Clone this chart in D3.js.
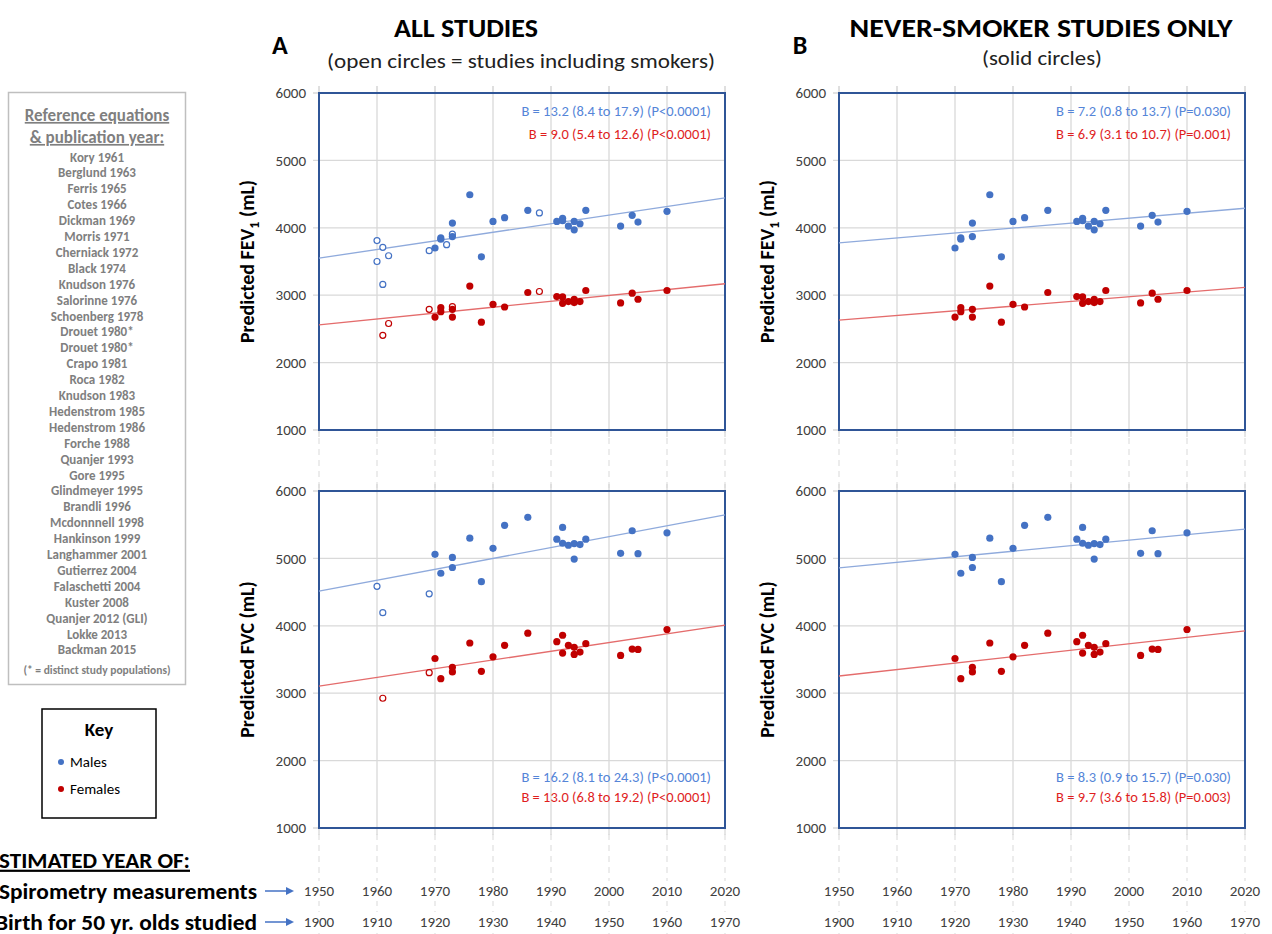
<!DOCTYPE html>
<html>
<head>
<meta charset="utf-8">
<script src="https://cdn.jsdelivr.net/npm/d3@7/dist/d3.min.js"></script>
<style>
  body { margin: 0; background: #fff; }
  svg { display: block; font-family: Carlito, Calibri, "Liberation Sans Narrow", Lato, sans-serif; }
</style>
</head>
<body>
<svg id="chart" width="1272" height="934"></svg>
<script>
// Reference list shown in the grey box
const studies = ['Kory 1961', 'Berglund 1963', 'Ferris 1965', 'Cotes 1966', 'Dickman 1969', 'Morris 1971',
  'Cherniack 1972', 'Black 1974', 'Knudson 1976', 'Salorinne 1976', 'Schoenberg 1978', 'Drouet 1980*',
  'Drouet 1980*', 'Crapo 1981', 'Roca 1982', 'Knudson 1983', 'Hedenstrom 1985', 'Hedenstrom 1986',
  'Forche 1988', 'Quanjer 1993', 'Gore 1995', 'Glindmeyer 1995', 'Brandli 1996', 'Mcdonnnell 1998',
  'Hankinson 1999', 'Langhammer 2001', 'Gutierrez 2004', 'Falaschetti 2004', 'Kuster 2008',
  'Quanjer 2012 (GLI)', 'Lokke 2013', 'Backman 2015'];

// Axis ticks
const yearTicks = [1950, 1960, 1970, 1980, 1990, 2000, 2010, 2020];
const valueTicks = [1000, 2000, 3000, 4000, 5000, 6000];

// [spirometry year, predicted mL] - studies of never-smokers (solid circles)
const fev1MaleNever = [[1970, 3700], [1971, 3850], [1971, 3830], [1973, 4070], [1973, 3870], [1976, 4490],
  [1978, 3570], [1980, 4095], [1982, 4150], [1986, 4260], [1991, 4095], [1992, 4140], [1992, 4105],
  [1993, 4025], [1994, 4095], [1994, 3970], [1995, 4060], [1996, 4260], [2002, 4025], [2004, 4185],
  [2005, 4085], [2010, 4245]];
const fev1FemaleNever = [[1970, 2675], [1971, 2815], [1971, 2755], [1973, 2790], [1973, 2675], [1976, 3135],
  [1978, 2600], [1980, 2865], [1982, 2825], [1986, 3040], [1991, 2980], [1992, 2975], [1992, 2880],
  [1993, 2905], [1994, 2940], [1994, 2890], [1995, 2905], [1996, 3070], [2002, 2885], [2004, 3030],
  [2005, 2940], [2010, 3070]];
const fvcMaleNever = [[1970, 5060], [1971, 4780], [1973, 5015], [1973, 4865], [1976, 5300], [1978, 4655],
  [1980, 5150], [1982, 5490], [1986, 5610], [1991, 5285], [1992, 5460], [1992, 5225], [1993, 5195],
  [1994, 5220], [1994, 4990], [1995, 5205], [1996, 5285], [2002, 5075], [2004, 5410], [2005, 5070],
  [2010, 5380]];
const fvcFemaleNever = [[1970, 3515], [1971, 3215], [1973, 3385], [1973, 3315], [1976, 3745], [1978, 3325],
  [1980, 3540], [1982, 3710], [1986, 3890], [1991, 3765], [1992, 3860], [1992, 3595], [1993, 3710],
  [1994, 3680], [1994, 3575], [1995, 3610], [1996, 3735], [2002, 3560], [2004, 3655], [2005, 3650],
  [2010, 3945]];

// studies including smokers (open circles, panel A only)
const fev1MaleSmokers = [[1960, 3810], [1960, 3500], [1961, 3710], [1961, 3160], [1962, 3585], [1969, 3660],
  [1972, 3750], [1973, 3905], [1988, 4220]];
const fev1FemaleSmokers = [[1961, 2405], [1962, 2580], [1969, 2790], [1973, 2830], [1988, 3055]];
const fvcMaleSmokers = [[1960, 4585], [1961, 4195], [1969, 4475]];
const fvcFemaleSmokers = [[1961, 2925], [1969, 3305]];

// regression lines: predicted value at 1950 and at 2020
const trendA = { fev1Male: [3550, 4445], fev1Female: [2560, 3170], fvcMale: [4515, 5645], fvcFemale: [3105, 4010] };
const trendB = { fev1Male: [3775, 4290], fev1Female: [2630, 3115], fvcMale: [4860, 5435], fvcFemale: [3255, 3925] };

const statsA = { fev1: ['B = 13.2 (8.4 to 17.9) (P<0.0001)', 'B = 9.0 (5.4 to 12.6) (P<0.0001)'],
                 fvc: ['B = 16.2 (8.1 to 24.3) (P<0.0001)', 'B = 13.0 (6.8 to 19.2) (P<0.0001)'] };
const statsB = { fev1: ['B = 7.2 (0.8 to 13.7) (P=0.030)', 'B = 6.9 (3.1 to 10.7) (P=0.001)'],
                 fvc: ['B = 8.3 (0.9 to 15.7) (P=0.030)', 'B = 9.7 (3.6 to 15.8) (P=0.003)'] };

const BLUE = '#4472C4', RED = '#C00000';
const BLUE_LINE = '#8FAADC', RED_LINE = '#E46C6C';
const BLUE_TEXT = '#5585D8', RED_TEXT = '#E01E1E';
const GREY = '#7F7F7F', GRID = '#D9D9D9', FRAME = '#2F5597';

const svg = d3.select('#chart');

// ---- panel geometry
const cols = [{ x0: 319, trend: trendA, stats: statsA, open: true },
              { x0: 839, trend: trendB, stats: statsB, open: false }];
const rows = [{ y0: 93, key: 'fev1' }, { y0: 491, key: 'fvc' }];
const W = 406, H = 337;

// dashed year guides that run through the whole column
cols.forEach(c => {
  const x = d3.scaleLinear().domain([1950, 2020]).range([c.x0, c.x0 + W]);
  svg.append('g').selectAll('line').data(yearTicks).enter().append('line')
    .attr('x1', d => x(d)).attr('x2', d => x(d))
    .attr('y1', 86).attr('y2', 934)
    .attr('stroke', GRID).attr('stroke-dasharray', '6,5');
});

function drawPanel(c, r) {
  const x = d3.scaleLinear().domain([1950, 2020]).range([c.x0, c.x0 + W]);
  const y = d3.scaleLinear().domain([1000, 6000]).range([r.y0 + H, r.y0]);
  const g = svg.append('g');

  g.append('rect').attr('x', c.x0).attr('y', r.y0).attr('width', W).attr('height', H).attr('fill', '#fff');

  g.selectAll('.vg').data(yearTicks).enter().append('line')
    .attr('x1', d => x(d)).attr('x2', d => x(d)).attr('y1', r.y0 - 7).attr('y2', r.y0 + H + 7)
    .attr('stroke', GRID).attr('stroke-width', 1.3);
  g.selectAll('.hg').data(valueTicks).enter().append('line')
    .attr('x1', c.x0 - 6).attr('x2', c.x0 + W).attr('y1', d => y(d)).attr('y2', d => y(d))
    .attr('stroke', GRID).attr('stroke-width', 1.3);

  g.selectAll('.yl').data(valueTicks).enter().append('text')
    .attr('x', c.x0 - 13).attr('y', d => y(d)).attr('dy', '0.35em')
    .attr('text-anchor', 'end').attr('font-size', 15).attr('fill', '#404040')
    .text(d => d);

  g.append('rect').attr('x', c.x0).attr('y', r.y0).attr('width', W).attr('height', H)
    .attr('fill', 'none').attr('stroke', FRAME).attr('stroke-width', 2);

  // regression lines
  const tr = c.trend;
  [[tr[r.key + 'Male'], BLUE_LINE], [tr[r.key + 'Female'], RED_LINE]].forEach(([v, col]) => {
    g.append('line').attr('x1', x(1950)).attr('y1', y(v[0])).attr('x2', x(2020)).attr('y2', y(v[1]))
      .attr('stroke', col).attr('stroke-width', 1.3);
  });

  const sets = r.key === 'fev1'
    ? { mN: fev1MaleNever, fN: fev1FemaleNever, mS: fev1MaleSmokers, fS: fev1FemaleSmokers }
    : { mN: fvcMaleNever, fN: fvcFemaleNever, mS: fvcMaleSmokers, fS: fvcFemaleSmokers };

  if (c.open) {
    [[sets.mS, BLUE], [sets.fS, RED]].forEach(([data, col]) => {
      g.append('g').selectAll('circle').data(data).enter().append('circle')
        .attr('cx', d => x(d[0])).attr('cy', d => y(d[1])).attr('r', 3)
        .attr('fill', '#fff').attr('stroke', col).attr('stroke-width', 1.2);
    });
  }
  [[sets.mN, BLUE], [sets.fN, RED]].forEach(([data, col]) => {
    g.append('g').selectAll('circle').data(data).enter().append('circle')
      .attr('cx', d => x(d[0])).attr('cy', d => y(d[1])).attr('r', 3.6).attr('fill', col);
  });

  // B coefficient annotations
  const st = c.stats[r.key];
  const ty = r.key === 'fev1' ? [r.y0 + 18, r.y0 + 41] : [r.y0 + 286, r.y0 + 306];
  [[st[0], BLUE_TEXT, ty[0]], [st[1], RED_TEXT, ty[1]]].forEach(([t, col, yy]) => {
    g.append('text').attr('x', c.x0 + W - 14).attr('y', yy).attr('dy', '0.35em')
      .attr('text-anchor', 'end').attr('font-size', 14.5).attr('fill', col).text(t);
  });

  // y axis title
  const ty2 = g.append('text')
    .attr('transform', `translate(${c.x0 - 65},${r.y0 + H / 2}) rotate(-90)`)
    .attr('text-anchor', 'middle').attr('font-size', 20).attr('font-weight', 'bold').attr('fill', '#000');
  if (r.key === 'fev1') {
    ty2.append('tspan').text('Predicted FEV');
    ty2.append('tspan').attr('font-size', 14).attr('dy', 5).text('1');
    ty2.append('tspan').attr('dy', -5).text(' (mL)');
  } else {
    ty2.text('Predicted FVC (mL)');
  }
}

cols.forEach(c => rows.forEach(r => drawPanel(c, r)));

// bottom year rows
cols.forEach(c => {
  const x = d3.scaleLinear().domain([1950, 2020]).range([c.x0, c.x0 + W]);
  [[891, 0], [922, 50]].forEach(([yy, off]) => {
    const g = svg.append('g');
    g.selectAll('rect').data(yearTicks).enter().append('rect')
      .attr('x', d => x(d) - 18).attr('y', yy - 10).attr('width', 36).attr('height', 20).attr('fill', '#fff');
    g.selectAll('text').data(yearTicks).enter().append('text')
      .attr('x', d => x(d)).attr('y', yy).attr('dy', '0.35em').attr('text-anchor', 'middle')
      .attr('font-size', 15).attr('fill', '#404040').text(d => d - off);
  });
});

// left labels for the year rows
svg.append('text').attr('x', -12).attr('y', 860).attr('dy', '0.35em')
  .attr('font-size', 22).attr('font-weight', 'bold').attr('text-decoration', 'underline')
  .attr('textLength', 202).attr('lengthAdjust', 'spacingAndGlyphs')
  .text('ESTIMATED YEAR OF:');
[['Spirometry measurements', 891, 258], ['Birth for 50 yr. olds studied', 922, 262]].forEach(([t, yy, len]) => {
  svg.append('text').attr('x', 257).attr('y', yy).attr('dy', '0.35em').attr('text-anchor', 'end')
    .attr('font-size', 22).attr('font-weight', 'bold')
    .attr('textLength', len).attr('lengthAdjust', 'spacingAndGlyphs').text(t);
  svg.append('line').attr('x1', 265).attr('x2', 287).attr('y1', yy).attr('y2', yy)
    .attr('stroke', BLUE).attr('stroke-width', 1.5);
  svg.append('path').attr('d', `M286,${yy - 4} L294,${yy} L286,${yy + 4} Z`).attr('fill', BLUE);
});

// titles
svg.append('text').attr('x', 466).attr('y', 28).attr('dy', '0.35em').attr('text-anchor', 'middle')
  .attr('font-size', 27).attr('font-weight', 'bold')
  .attr('textLength', 144).attr('lengthAdjust', 'spacingAndGlyphs').text('ALL STUDIES');
svg.append('text').attr('x', 521).attr('y', 61).attr('dy', '0.35em').attr('text-anchor', 'middle')
  .attr('font-size', 20).attr('fill', '#222')
  .attr('textLength', 388).attr('lengthAdjust', 'spacingAndGlyphs').text('(open circles = studies including smokers)');
svg.append('text').attr('x', 1041).attr('y', 28).attr('dy', '0.35em').attr('text-anchor', 'middle')
  .attr('font-size', 27).attr('font-weight', 'bold')
  .attr('textLength', 383).attr('lengthAdjust', 'spacingAndGlyphs').text('NEVER-SMOKER STUDIES ONLY');
svg.append('text').attr('x', 1042).attr('y', 58).attr('dy', '0.35em').attr('text-anchor', 'middle')
  .attr('font-size', 20).attr('fill', '#222')
  .attr('textLength', 120).attr('lengthAdjust', 'spacingAndGlyphs').text('(solid circles)');
svg.append('text').attr('x', 280).attr('y', 45).attr('dy', '0.35em').attr('text-anchor', 'middle')
  .attr('font-size', 26).attr('font-weight', 'bold').text('A');
svg.append('text').attr('x', 800).attr('y', 45).attr('dy', '0.35em').attr('text-anchor', 'middle')
  .attr('font-size', 26).attr('font-weight', 'bold').text('B');

// reference box
svg.append('rect').attr('x', 8.5).attr('y', 92.5).attr('width', 177).attr('height', 592)
  .attr('fill', '#fff').attr('stroke', '#BFBFBF').attr('stroke-width', 1.5);
['Reference equations', '& publication year:'].forEach((t, i) => {
  svg.append('text').attr('x', 97).attr('y', 115 + i * 22).attr('dy', '0.35em').attr('text-anchor', 'middle')
    .attr('font-size', 17).attr('font-weight', 'bold').attr('fill', GREY)
    .attr('text-decoration', 'underline').text(t);
});
svg.append('g').selectAll('text').data(studies).enter().append('text')
  .attr('x', 97).attr('y', (d, i) => 157 + i * 15.9).attr('dy', '0.35em').attr('text-anchor', 'middle')
  .attr('font-size', 13).attr('font-weight', 'bold').attr('fill', GREY).text(d => d);
svg.append('text').attr('x', 97).attr('y', 670).attr('dy', '0.35em').attr('text-anchor', 'middle')
  .attr('font-size', 11.5).attr('font-weight', 'bold').attr('fill', GREY).text('(* =  distinct study populations)');

// key
svg.append('rect').attr('x', 42).attr('y', 709).attr('width', 114).attr('height', 109)
  .attr('fill', '#fff').attr('stroke', '#000').attr('stroke-width', 1.5);
svg.append('text').attr('x', 99).attr('y', 729).attr('dy', '0.35em').attr('text-anchor', 'middle')
  .attr('font-size', 19).attr('font-weight', 'bold').text('Key');
[['Males', BLUE, 762], ['Females', RED, 789]].forEach(([t, col, yy]) => {
  svg.append('circle').attr('cx', 61).attr('cy', yy).attr('r', 3).attr('fill', col);
  svg.append('text').attr('x', 70).attr('y', yy).attr('dy', '0.35em').attr('font-size', 15).text(t);
});
</script>
</body>
</html>
